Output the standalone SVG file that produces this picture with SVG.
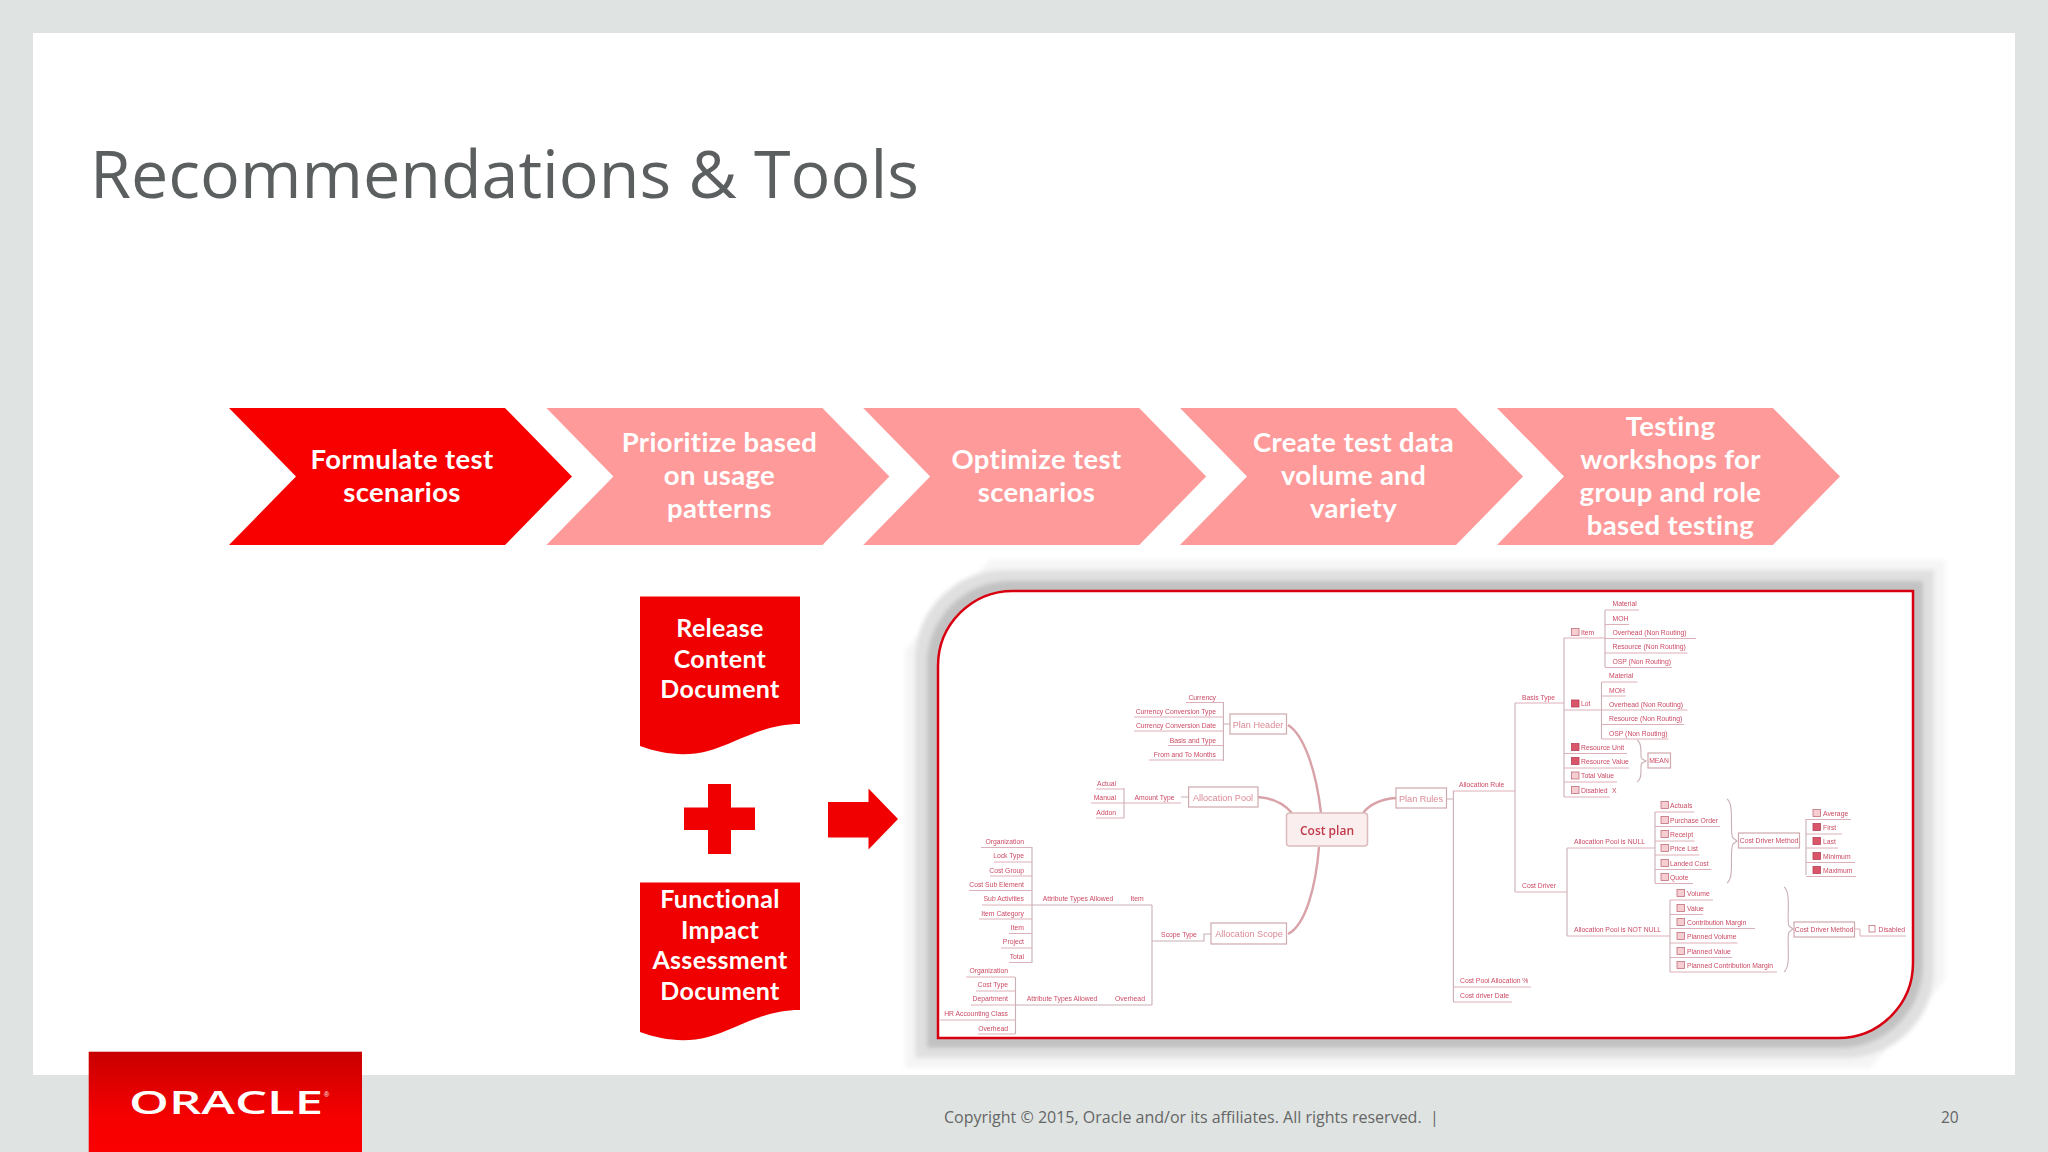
<svg xmlns="http://www.w3.org/2000/svg" xmlns:xlink="http://www.w3.org/1999/xlink" width="2048" height="1152" viewBox="0 0 2048 1152">
<style>
.lbl{font-family:"Lato","Liberation Sans",sans-serif;font-weight:700;font-size:27.5px;letter-spacing:.35px;fill:#fff;text-anchor:middle}
.doc{font-size:25px;letter-spacing:.3px}
.m{font-family:"Liberation Sans",sans-serif;font-size:6.8px;fill:#cc4a64}
.e{text-anchor:end}
.c{text-anchor:middle}
.box{fill:#fff;stroke:#cfa9ad;stroke-width:1.2}
.bt{font-size:9.1px;fill:#d98a95}
.ul{fill:none;stroke:#dcb0b8;stroke-width:1}
.br{fill:none;stroke:#c8b0b4;stroke-width:1.1}
.cv{fill:none;stroke:#d8a2a8;stroke-width:2.4}
.ic{fill:#f6cdd0;stroke:#c0707a;stroke-width:.8}
.icd{fill:#d9566a;stroke:#b84055;stroke-width:.8}
</style>
<defs>
<polygon id="chev" points="0,408 276,408 343,476.5 276,545 0,545 67,476.5"/>
<path id="docshape" d="M640 596.500H800V724C762 724 735 744 708 751C685 757 662 754 640 746Z"/>
<path id="pic" d="M1013 591H1913V963A75 75 0 0 1 1838 1038H938V666A75 75 0 0 1 1013 591Z"/>
<linearGradient id="og" x1="0" y1="0" x2="0" y2="1"><stop offset="0" stop-color="#c80000"/><stop offset=".65" stop-color="#f60000"/><stop offset="1" stop-color="#fa0000"/></linearGradient>
<filter id="soft" x="-2%" y="-2%" width="104%" height="104%"><feGaussianBlur stdDeviation="0.7"/></filter>
<filter id="sh" x="-5%" y="-10%" width="110%" height="120%"><feGaussianBlur stdDeviation="2"/></filter>
</defs>
<rect width="2048" height="1152" fill="#dfe4e3"/>
<rect x="33" y="33" width="1982" height="1042" fill="#fff"/>
<text x="90" y="198" font-family="'Open Sans','Liberation Sans',sans-serif" font-size="66.400" fill="#5c5f60">Recommendations &amp; Tools</text>

<g id="step1"><use xlink:href="#chev" x="229" fill="#f80000"/><text class="lbl" x="402" y="469">Formulate test</text><text class="lbl" x="402" y="502">scenarios</text></g>
<g id="step2"><use xlink:href="#chev" x="546.400" fill="#fe9a9a"/><text class="lbl" x="719.500" y="452">Prioritize based</text><text class="lbl" x="719.500" y="485">on usage</text><text class="lbl" x="719.500" y="518">patterns</text></g>
<g id="step3"><use xlink:href="#chev" x="863.200" fill="#fe9a9a"/><text class="lbl" x="1036.500" y="469">Optimize test</text><text class="lbl" x="1036.500" y="502">scenarios</text></g>
<g id="step4"><use xlink:href="#chev" x="1180" fill="#fe9a9a"/><text class="lbl" x="1353.500" y="452">Create test data</text><text class="lbl" x="1353.500" y="485">volume and</text><text class="lbl" x="1353.500" y="518">variety</text></g>
<g id="step5"><use xlink:href="#chev" x="1497" fill="#fe9a9a"/><text class="lbl" x="1670.500" y="436">Testing</text><text class="lbl" x="1670.500" y="469">workshops for</text><text class="lbl" x="1670.500" y="502">group and role</text><text class="lbl" x="1670.500" y="535">based testing</text></g>

<g id="doc1"><use xlink:href="#docshape" fill="#f00000"/><text class="lbl doc" x="720" y="637">Release</text><text class="lbl doc" x="720" y="668">Content</text><text class="lbl doc" x="720" y="698">Document</text></g>
<g id="plus"><path d="M708 784H731V807.500H755V830H731V854H708V830H684V807.500H708Z" fill="#f00000"/></g>
<g id="doc2"><use xlink:href="#docshape" y="286" fill="#f00000"/><text class="lbl doc" x="720" y="908">Functional</text><text class="lbl doc" x="720" y="939">Impact</text><text class="lbl doc" x="720" y="969">Assessment</text><text class="lbl doc" x="720" y="1000">Document</text></g>
<g id="arrow"><path d="M828 802H868.500V788.500L898 819L868.500 849.500V837.500H828Z" fill="#f00000"/></g>

<g id="picture-shadow" filter="url(#sh)">
<path d="M990 560H1945V980L1870 1068H905V650Z" fill="#f5f5f5"/>
<path d="M1005 570H1934V970A88 88 0 0 1 1846 1058H915V660A90 90 0 0 1 1005 570Z" fill="#e0e0e0"/>
<path d="M1010 581H1923V965A83 83 0 0 1 1840 1048H927V664A83 83 0 0 1 1010 581Z" fill="#c2c2c2"/>
</g>
<use id="picture" xlink:href="#pic" fill="#fff" stroke="#d80010" stroke-width="2.500"/>

<g id="mindmap" filter="url(#soft)">
<g id="connectors">
<path class="cv" d="M1288 725C1304 735 1316 770 1321 813"/>
<path class="cv" d="M1258 797C1272 798 1284 804 1292 813"/>
<path class="cv" d="M1288 934C1306 925 1316 885 1319 847"/>
<path class="cv" d="M1396 798C1382 799 1370 804 1363 813"/>
<path class="br" d="M1223.400 702V761M1223.400 724H1230M1124 788V818M1181 797H1188.600M1152 905V1005M1152 941H1204V934H1211M1032 905H1152M1015.500 1005H1152M1032 847V963M1015.500 977V1034"/>
<path class="ul" d="M1186 702.500H1223M1134 717H1223M1134 731H1223M1168 745.500H1223M1149 760H1223M1096 789H1124M1091 803H1181M1096 818H1124"/>
<path class="ul" d="M981 847.500H1032M994 862H1032M990 876H1032M969 890.500H1032M982 905H1032M979 919H1032M1009 933.500H1032M1001 948H1032M1009 962.500H1032M966 977H1015M976 991H1015M971 1005H1015M940 1020H1015M978 1034H1015"/>
<path class="br" d="M1446 799H1453.400M1453.400 791V1002M1515 703V892M1564 638V797M1605 610V667M1601.500 682V739M1567 848V936M1655 812V883M1806 819V875M1670 900V972"/>
<path class="ul" d="M1453 791H1515M1453 987H1531M1453 1002H1512M1515 703H1564M1515 892H1567M1564 638H1605M1564 710H1601M1567 848H1655M1567 936H1670"/>
<path class="ul" d="M1605 610H1639M1605 624.500H1629M1605 638.500H1696M1605 653H1687.500M1605 667.500H1672M1601.500 682H1637.500M1601.500 696H1625.500M1601.500 710H1687.500M1601.500 724.500H1684M1601.500 739H1668.500"/>
<path class="ul" d="M1564 753.500H1627M1564 768H1629M1564 782H1617M1564 797H1610"/>
<path class="ul" d="M1655 812H1694.500M1655 826.500H1720M1655 841H1694.500M1655 855H1699.500M1655 869.500H1711.500M1655 883.500H1693"/>
<path class="ul" d="M1806 819.500H1851M1806 834H1842M1806 848H1838M1806 862.500H1855M1806 876.500H1856"/>
<path class="ul" d="M1670 900H1713M1670 914.500H1703M1670 928.500H1755M1670 943H1737.500M1670 957.500H1732M1670 972H1777"/>
<path class="ul" d="M1854.500 929H1860V936H1906"/>
<path class="br" d="M1637 740C1644 744 1639 757 1642 759L1646 761L1642 763C1639 766 1644 778 1637 782"/>
<path class="br" d="M1727 799C1735 804 1729 834 1733 838L1737 841L1733 844C1729 850 1735 878 1727 883"/>
<path class="br" d="M1784 887C1792 892 1786 922 1789 926L1793 929L1789 932C1786 938 1792 966 1784 972"/>
</g>
<g id="cost-plan"><rect x="1286.500" y="813" width="81" height="33" rx="3" fill="#fbeeee" stroke="#dcbcbc" stroke-width="1.500"/><text class="c" x="1327" y="835" font-family="'Open Sans','Liberation Sans',sans-serif" font-weight="600" font-size="12" fill="#c03848">Cost plan</text></g>
<g id="plan-header"><rect class="box" x="1230" y="714" width="56.500" height="20"/><text class="m c bt" x="1258" y="727.500">Plan Header</text></g>
<g id="allocation-pool"><rect class="box" x="1188.600" y="787" width="69.400" height="20"/><text class="m c bt" x="1223" y="800.500">Allocation Pool</text></g>
<g id="allocation-scope"><rect class="box" x="1211" y="923" width="75.500" height="21"/><text class="m c bt" x="1249" y="937">Allocation Scope</text></g>
<g id="plan-rules"><rect class="box" x="1396" y="788" width="50.500" height="20"/><text class="m c bt" x="1421" y="801.500">Plan Rules</text></g>

<g id="leaves-left">
<text class="m e" x="1216" y="699.500">Currency</text><text class="m e" x="1216" y="713.500">Currency Conversion Type</text><text class="m e" x="1216" y="728">Currency Conversion Date</text><text class="m e" x="1216" y="742.500">Basis and Type</text><text class="m e" x="1216" y="756.500">From and To Months</text>
<text class="m e" x="1116" y="785.500">Actual</text><text class="m e" x="1116" y="800">Manual</text><text class="m e" x="1116" y="814.500">Addon</text><text class="m c" x="1154.500" y="800">Amount Type</text>
<text class="m e" x="1024" y="843.500">Organization</text><text class="m e" x="1024" y="857.500">Lock Type</text><text class="m e" x="1024" y="872.500">Cost Group</text><text class="m e" x="1024" y="886.500">Cost Sub Element</text><text class="m e" x="1024" y="900.500">Sub Activities</text><text class="m e" x="1024" y="915.500">Item Category</text><text class="m e" x="1024" y="929.500">Item</text><text class="m e" x="1024" y="943.500">Project</text><text class="m e" x="1024" y="958.500">Total</text>
<text class="m c" x="1078" y="900.500">Attribute Types Allowed</text><text class="m c" x="1137" y="900.500">Item</text><text class="m c" x="1179" y="936.500">Scope Type</text>
<text class="m e" x="1008" y="972.500">Organization</text><text class="m e" x="1008" y="986.500">Cost Type</text><text class="m e" x="1008" y="1001">Department</text><text class="m e" x="1008" y="1015.500">HR Accounting Class</text><text class="m e" x="1008" y="1030.500">Overhead</text>
<text class="m c" x="1062" y="1001">Attribute Types Allowed</text><text class="m c" x="1130" y="1001">Overhead</text>
</g>
<g id="leaves-right">
<text class="m" x="1459" y="786.500">Allocation Rule</text><text class="m" x="1460" y="982.500">Cost Pool Allocation %</text><text class="m" x="1460" y="997.500">Cost driver Date</text>
<text class="m" x="1522" y="699.500">Basis Type</text><text class="m" x="1522" y="887.500">Cost Driver</text>
<rect class="ic" x="1571.500" y="628.500" width="7.500" height="7"/><text class="m" x="1581" y="634.500">Item</text>
<text class="m" x="1612.500" y="605.500">Material</text><text class="m" x="1612.500" y="620.500">MOH</text><text class="m" x="1612.500" y="634.500">Overhead (Non Routing)</text><text class="m" x="1612.500" y="648.500">Resource (Non Routing)</text><text class="m" x="1612.500" y="663.500">OSP (Non Routing)</text>
<rect class="icd" x="1571.500" y="700" width="7.500" height="7"/><text class="m" x="1581" y="706">Lot</text>
<text class="m" x="1609" y="677.500">Material</text><text class="m" x="1609" y="692.500">MOH</text><text class="m" x="1609" y="706.500">Overhead (Non Routing)</text><text class="m" x="1609" y="720.500">Resource (Non Routing)</text><text class="m" x="1609" y="735.500">OSP (Non Routing)</text>
<rect class="icd" x="1571.500" y="743.500" width="7.500" height="7"/><text class="m" x="1581" y="749.500">Resource Unit</text>
<rect class="icd" x="1571.500" y="757.500" width="7.500" height="7"/><text class="m" x="1581" y="763.500">Resource Value</text>
<rect class="ic" x="1571.500" y="772" width="7.500" height="7"/><text class="m" x="1581" y="778">Total Value</text>
<rect class="ic" x="1571.500" y="786.500" width="7.500" height="7"/><text class="m" x="1581" y="792.500">Disabled</text><text class="m" x="1612" y="792.500">X</text>
<rect class="box" x="1648" y="753" width="22.500" height="15"/><text class="m c" x="1659" y="763">MEAN</text>
<text class="m" x="1574" y="843.500">Allocation Pool is NULL</text><text class="m" x="1574" y="931.500">Allocation Pool is NOT NULL</text>
<rect class="ic" x="1661" y="801.500" width="7.500" height="7"/><text class="m" x="1670" y="807.500">Actuals</text>
<rect class="ic" x="1661" y="816.500" width="7.500" height="7"/><text class="m" x="1670" y="822.500">Purchase Order</text>
<rect class="ic" x="1661" y="830.500" width="7.500" height="7"/><text class="m" x="1670" y="836.500">Receipt</text>
<rect class="ic" x="1661" y="844.500" width="7.500" height="7"/><text class="m" x="1670" y="850.500">Price List</text>
<rect class="ic" x="1661" y="859.500" width="7.500" height="7"/><text class="m" x="1670" y="865.500">Landed Cost</text>
<rect class="ic" x="1661" y="873.500" width="7.500" height="7"/><text class="m" x="1670" y="879.500">Quote</text>
<rect class="box" x="1738.500" y="833" width="61" height="15"/><text class="m c" x="1769" y="843">Cost Driver Method</text>
<rect class="ic" x="1813" y="809.500" width="7.500" height="7"/><text class="m" x="1823" y="815.500">Average</text>
<rect class="icd" x="1813" y="823.500" width="7.500" height="7"/><text class="m" x="1823" y="829.500">First</text>
<rect class="icd" x="1813" y="837.500" width="7.500" height="7"/><text class="m" x="1823" y="843.500">Last</text>
<rect class="icd" x="1813" y="852.500" width="7.500" height="7"/><text class="m" x="1823" y="858.500">Minimum</text>
<rect class="icd" x="1813" y="866.500" width="7.500" height="7"/><text class="m" x="1823" y="872.500">Maximum</text>
<rect class="ic" x="1677" y="889.500" width="7.500" height="7"/><text class="m" x="1687" y="895.500">Volume</text>
<rect class="ic" x="1677" y="904.500" width="7.500" height="7"/><text class="m" x="1687" y="910.500">Value</text>
<rect class="ic" x="1677" y="918.500" width="7.500" height="7"/><text class="m" x="1687" y="924.500">Contribution Margin</text>
<rect class="ic" x="1677" y="932.500" width="7.500" height="7"/><text class="m" x="1687" y="938.500">Planned Volume</text>
<rect class="ic" x="1677" y="947.500" width="7.500" height="7"/><text class="m" x="1687" y="953.500">Planned Value</text>
<rect class="ic" x="1677" y="961.500" width="7.500" height="7"/><text class="m" x="1687" y="967.500">Planned Contribution Margin</text>
<rect class="box" x="1794" y="922" width="60.500" height="15"/><text class="m c" x="1824" y="932">Cost Driver Method</text>
<rect class="ic" x="1869" y="925.500" width="6" height="6.500" style="fill:#fff"/><text class="m" x="1878.500" y="931.500">Disabled</text>
</g>
</g>

<g id="oracle-logo"><rect x="88.700" y="1051.700" width="273.300" height="100.300" fill="url(#og)"/><text x="129" y="1114" font-family="'Open Sans','Liberation Sans',sans-serif" font-size="33" font-weight="600" fill="#fff" textLength="194" lengthAdjust="spacingAndGlyphs">ORACLE</text><text x="324" y="1097" font-family="'Liberation Sans',sans-serif" font-size="7" fill="#fff">®</text></g>
<text x="944" y="1123" font-family="'Open Sans','Liberation Sans',sans-serif" font-size="16" fill="#666" xml:space="preserve">Copyright © 2015, Oracle and/or its affiliates. All rights reserved.  |</text>
<text x="1941" y="1123" font-family="'Open Sans','Liberation Sans',sans-serif" font-size="15.500" fill="#666">20</text>
</svg>
